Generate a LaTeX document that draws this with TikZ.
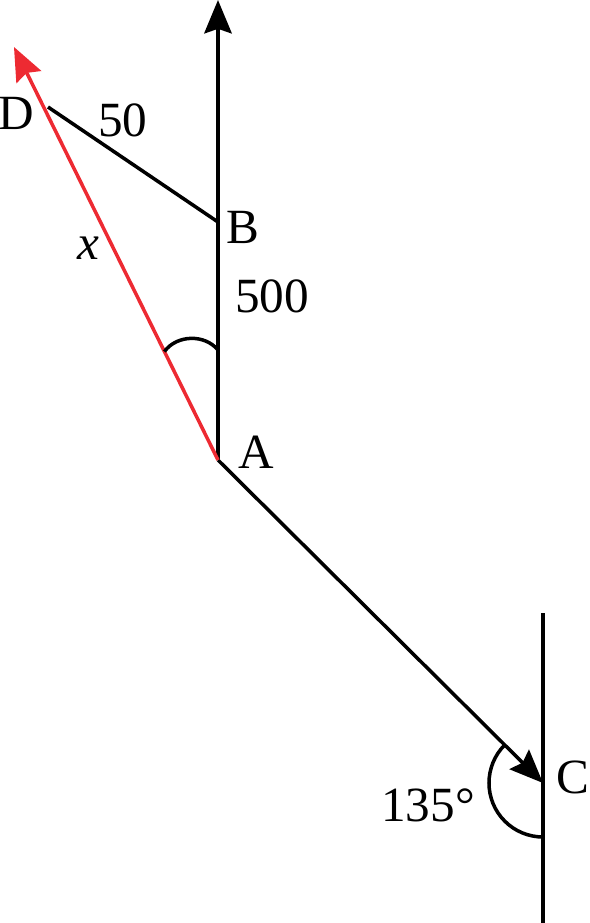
\documentclass[tikz,border=0pt]{standalone}
\usepackage{fontspec}
\setmainfont{Liberation Serif}
\usetikzlibrary{arrows.meta,calc}
\definecolor{vecred}{RGB}{237,42,50}
\tikzset{
    vec/.style={line width=1pt, -{Stealth[length=9.5pt,width=7.8pt,inset=1.3pt]}},
    seg/.style={line width=1pt},
    lbl/.style={inner sep=0pt, font=\fontsize{14}{16}\selectfont}
}
\begin{document}
\begin{tikzpicture}
    \useasboundingbox (-2.18,-4.63) rectangle (3.72,4.60);
    \coordinate (A) at (0,0);
    \coordinate (B) at (0,2.38);
    \coordinate (N) at (0,4.60);
    \coordinate (D) at (-1.70,3.53);
    \coordinate (R) at (-2.04,4.13);
    \coordinate (C) at (3.25,-3.23);
    \coordinate (Ctop) at (3.25,-1.53);
    \coordinate (Cbot) at (3.25,-4.63);

    % vectors
    \draw[vec] (A) -- (N);
    \draw[vec] (A) -- (C);
    \draw[seg] (Ctop) -- (Cbot);
    \draw[seg] (D) -- (B);
    \draw[vec, vecred] (A) -- (R);

    % angles
    \draw[seg] ($(A)!1.21cm!(R)$) coordinate (P) to[bend left=52] (0,1.10) coordinate (Q);
    \draw[seg] ($(C)+(135:0.54)$) arc (135:270:0.54);

    \node[lbl] (la) at (0.38,0.08) {A};
    \node[lbl] (lb) at (0.25,2.33) {B};
    \node[lbl] (lc) at (3.55,-3.17) {C};
    \node[lbl] (ld) at (-2.02,3.47) {D};
    \node[lbl] (l50) at (-0.95,3.40) {50};
    \node[lbl] (l500) at (0.54,1.64) {500};
    \node[lbl] (lx) at (-1.30,2.12) {\itshape x};
    \node[lbl] (lang) at (2.10,-3.45) {135°};
\end{tikzpicture}
\end{document}
